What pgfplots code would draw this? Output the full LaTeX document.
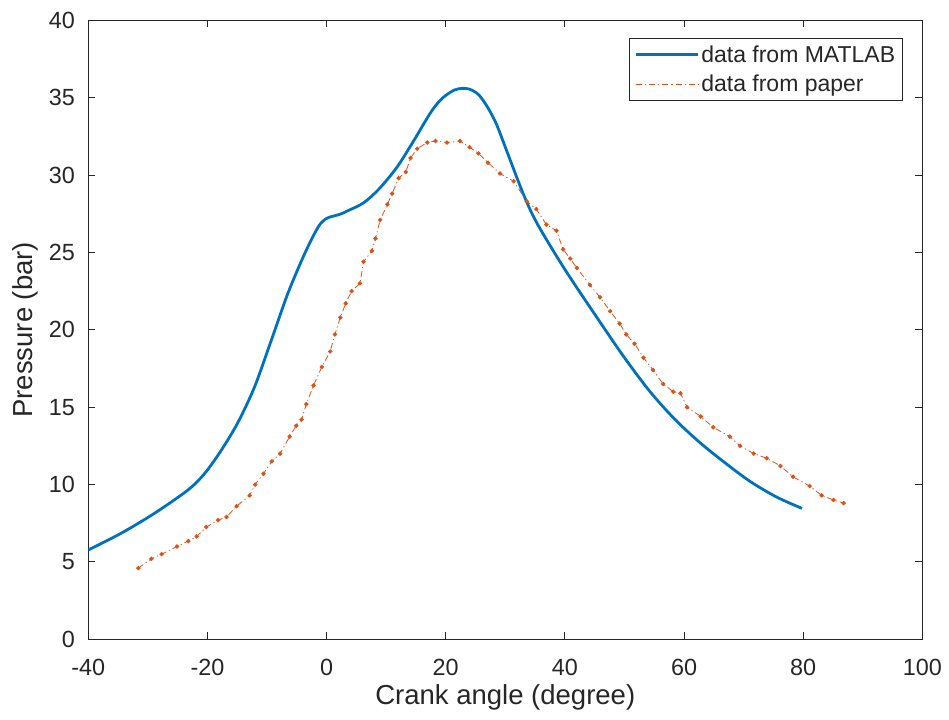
\documentclass[border=0pt]{standalone}
\usepackage{pgfplots}
\pgfplotsset{compat=1.18}
\usepackage{fontspec}
\setmainfont{Liberation Sans}
\definecolor{mblue}{RGB}{0,114,189}
\definecolor{morange}{RGB}{217,83,25}
\definecolor{axgray}{RGB}{38,38,38}
\begin{document}
\begin{tikzpicture}
\useasboundingbox (-88.3bp,-80.7bp) rectangle (860.7bp,639.3bp);
\begin{axis}[
 at={(0,0)}, anchor=south west,
 width=834bp, height=619bp, scale only axis,
 xmin=-40, xmax=100, ymin=0, ymax=40,
 xtick={-40,-20,...,100}, ytick={0,5,...,40},
 tick align=inside,
 major tick length=7bp,
 axis line style={axgray, line width=0.9bp},
 every tick/.style={axgray, line width=0.9bp},
 /pgf/number format/assume math mode=true,
 ticklabel style={font=\fontsize{23.4bp}{28bp}\selectfont, text=axgray, inner sep=0pt},
 xticklabel style={anchor=base, yshift=-36.5bp},
 yticklabel style={anchor=east, xshift=-13.3bp},
 xlabel={Crank angle (degree)},
 ylabel={Pressure (bar)},
 xlabel style={at={(axis description cs:0.5,-0.1061)}, anchor=base, inner sep=0pt, font=\fontsize{27.5bp}{32bp}\selectfont, text=axgray},
 ylabel style={at={(axis description cs:-0.06,0.5)}, anchor=south, inner sep=0pt, font=\fontsize{27.5bp}{32bp}\selectfont, text=axgray},
 legend style={at={(axis description cs:1,1)}, anchor=north east, xshift=-19.7bp, yshift=-18bp,
   draw=axgray, line width=0.9bp, font=\fontsize{23bp}{26bp}\selectfont, text=axgray,
   inner xsep=5bp, inner ysep=5bp, row sep=7bp, cells={anchor=west}},
 legend cell align=left,
 legend image code/.code={\draw[mark repeat=2,mark phase=2,#1] (0bp,0bp) -- (31bp,0bp) -- (62bp,0bp);},
]
\addplot[mblue, line width=2.8bp, smooth] coordinates {
(-40,5.77) (-34.5,6.85) (-28.9,8.14) (-23.3,9.64) (-20.5,10.7) (-17.7,12.2) (-14.9,14.0) (-12.1,16.3) (-9.3,19.3) (-6.5,22.35) (-3.7,24.9) (-1.4,26.65) (0,27.2) (1.2,27.35) (2.5,27.5) (3.6,27.7) (6.2,28.2) (8.8,29.1) (11.8,30.5) (14.6,32.2) (17.4,34.0) (19.0,34.8) (20.2,35.2) (21.5,35.5) (22.7,35.6) (24.0,35.55) (25.5,35.2) (27.0,34.4) (28.5,33.3) (30.2,31.6) (33.0,28.8) (35.3,26.9) (40,23.9) (45.9,20.5) (50,18.2) (54.3,16.0) (58.5,14.2) (62.7,12.7) (66.9,11.4) (71.1,10.2) (75.5,9.2) (79.8,8.46)
};
\addlegendentry{data from MATLAB}
\addplot[morange, line width=0.8bp, dash pattern=on 6bp off 3bp on 1.2bp off 3bp, mark=*, mark size=1.8bp, mark options={solid, fill=morange, draw=morange}] coordinates {
(-31.6,4.6) (-29.4,5.2) (-27.7,5.5) (-25.1,6.0) (-23.2,6.35) (-21.8,6.65) (-20.2,7.25) (-18.2,7.7) (-16.8,7.9) (-15.1,8.6) (-12.9,9.3) (-12.0,10.0) (-10.6,10.7) (-9.2,11.5) (-7.8,12.0) (-6.2,13.1) (-5.1,13.8) (-4.2,14.2) (-3.4,15.2) (-2.2,16.4) (-0.8,17.6) (0.6,18.6) (1.4,19.7) (2.3,20.8) (3.2,21.7) (4.2,22.5) (5.6,23.0) (6.2,24.4) (7.6,25.1) (8.2,25.9) (9.0,27.1) (10.2,28.1) (11.0,28.8) (12.1,29.8) (13.3,30.2) (14.1,31.1) (15.2,31.7) (16.9,32.1) (18.3,32.2) (20.2,32.1) (22.4,32.2) (24.0,31.8) (25.5,31.4) (27.1,30.8) (29.1,30.1) (31.4,29.6) (33.6,28.3) (35.2,27.8) (36.9,26.8) (38.6,26.4) (39.7,25.2) (40.9,24.6) (42.0,24.0) (44.2,22.9) (45.9,22.1) (47.6,21.2) (49.2,20.4) (50.3,19.7) (51.7,19.1) (53.2,18.2) (54.8,17.4) (56.5,16.5) (58.2,16.0) (59.4,15.9) (60.5,15.0) (62.8,14.4) (64.9,13.7) (67.7,13.1) (69.4,12.5) (71.7,12.0) (73.9,11.7) (76.2,11.2) (78.3,10.5) (81.1,9.9) (83.1,9.3) (85.1,9.0) (86.8,8.8)
};
\addlegendentry{data from paper}
\end{axis}
\end{tikzpicture}
\end{document}
